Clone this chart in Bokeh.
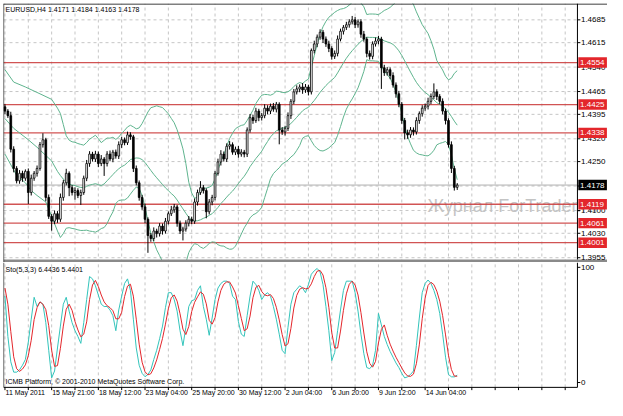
import numpy as np
from bokeh.plotting import figure
from bokeh.layouts import column
from bokeh.models import Range1d, Span, ColumnDataSource
from bokeh.core.properties import value
from bokeh.embed import file_html
from bokeh.resources import INLINE

# ---------------- data ----------------
chart_title = "EURUSD,H4  1.4171 1.4184 1.4163 1.4178"
sto_title = "Sto(5,3,3) 6.4436 5.4401"
copyright_text = "ICMB Platform, \u00a9 2001-2010 MetaQuotes Software Corp."
watermark = "Журнал ForTrader.ru"

first_open = 1.4418
closes = [
    1.4405, 1.4391, 1.4288, 1.4229, 1.4191, 1.4214, 1.4199, 1.4220, 1.4155, 1.4199,
    1.4214, 1.4229, 1.4302, 1.4317, 1.4140, 1.4082, 1.4067, 1.4090, 1.4073, 1.4140,
    1.4185, 1.4214, 1.4170, 1.4155, 1.4161, 1.4146, 1.4155, 1.4199, 1.4244, 1.4273,
    1.4258, 1.4273, 1.4244, 1.4258, 1.4244, 1.4273, 1.4258, 1.4279, 1.4267, 1.4302,
    1.4317, 1.4308, 1.4332, 1.4326, 1.4229, 1.4185, 1.4140, 1.4111, 1.4073, 1.4023,
    1.4014, 1.4037, 1.4029, 1.4052, 1.4037, 1.4067, 1.4090, 1.4102, 1.4111, 1.4061,
    1.4037, 1.4043, 1.4061, 1.4073, 1.4067, 1.4126, 1.4155, 1.4170, 1.4161, 1.4096,
    1.4126, 1.4140, 1.4214, 1.4249, 1.4273, 1.4258, 1.4297, 1.4302, 1.4279, 1.4288,
    1.4273, 1.4279, 1.4273, 1.4347, 1.4385, 1.4376, 1.4405, 1.4385, 1.4391, 1.4414,
    1.4405, 1.4420, 1.4411, 1.4426, 1.4347, 1.4341, 1.4352, 1.4391, 1.4435, 1.4464,
    1.4473, 1.4479, 1.4470, 1.4479, 1.4464, 1.4591, 1.4611, 1.4632, 1.4647, 1.4626,
    1.4611, 1.4597, 1.4573, 1.4582, 1.4626, 1.4650, 1.4662, 1.4670, 1.4679, 1.4685,
    1.4670, 1.4679, 1.4641, 1.4626, 1.4582, 1.4573, 1.4611, 1.4620, 1.4626, 1.4538,
    1.4523, 1.4532, 1.4514, 1.4485, 1.4458, 1.4426, 1.4376, 1.4338, 1.4332, 1.4347,
    1.4341, 1.4376, 1.4397, 1.4414, 1.4420, 1.4435, 1.4450, 1.4464, 1.4450, 1.4435,
    1.4405, 1.4376, 1.4302, 1.4229, 1.4171, 1.4178,
]
upper_wick_pips = [
    8, 6, 12, 9, 7, 10, 8, 6, 9, 11,
    7, 9, 8, 20, 6, 9, 7, 10, 8, 12,
    9, 14, 6, 8, 10, 7, 9, 8, 11, 9,
    7, 10, 8, 12, 6, 9, 11, 7, 8, 10,
    9, 7, 10, 8, 6, 9, 7, 8, 10, 6,
    8, 11, 7, 9, 8, 10, 7, 12, 9, 6,
    8, 7, 9, 10, 8, 11, 9, 20, 8, 7,
    9, 8, 7, 10, 12, 8, 9, 11, 7, 8,
    10, 9, 7, 8, 11, 9, 10, 7, 8, 12,
    9, 8, 10, 7, 6, 9, 8, 10, 7, 9,
    11, 8, 12, 9, 7, 6, 10, 8, 9, 7,
    8, 10, 7, 9, 11, 8, 7, 9, 8, 12,
    9, 7, 8, 10, 6, 9, 8, 11, 10, 7,
    9, 8, 7, 10, 8, 9, 7, 8, 10, 9,
    8, 10, 7, 9, 8, 11, 9, 26, 8, 7,
    9, 8, 7, 10, 8, 6,
]
lower_wick_pips = [
    9, 7, 10, 12, 8, 9, 11, 8, 35, 9,
    8, 10, 7, 9, 12, 8, 29, 9, 11, 8,
    10, 8, 26, 9, 22, 8, 29, 7, 9, 10,
    8, 9, 11, 8, 38, 9, 7, 10, 8, 9,
    10, 8, 7, 9, 11, 8, 10, 9, 12, 53,
    10, 8, 12, 9, 11, 8, 10, 7, 9, 11,
    9, 29, 8, 10, 9, 8, 11, 7, 9, 20,
    8, 10, 9, 7, 11, 8, 9, 10, 8, 9,
    11, 8, 10, 9, 8, 10, 7, 11, 9, 8,
    10, 9, 8, 10, 44, 9, 11, 8, 10, 9,
    8, 10, 12, 9, 11, 8, 9, 10, 8, 12,
    9, 11, 10, 8, 9, 7, 10, 8, 9, 8,
    10, 9, 11, 8, 12, 10, 9, 8, 10, 65,
    10, 9, 11, 8, 12, 9, 10, 20, 12, 9,
    11, 8, 10, 9, 8, 10, 9, 8, 11, 9,
    10, 12, 9, 14, 10, 8,
]

# Bollinger bands: visible start of the bands (before a full 20-bar window exists)
bb_upper_head_idx = [0, 3, 7, 12, 16, 18]
bb_upper_head = [1.4532, 1.4494, 1.4479, 1.4458, 1.4441, 1.4414]
bb_mid_head_idx = [0, 3, 8, 11, 16, 18]
bb_mid_head = [1.4382, 1.4352, 1.4317, 1.4294, 1.4252, 1.4220]
bb_lower_head_idx = [0, 4, 7, 9, 11, 14, 16, 18]
bb_lower_head = [1.4273, 1.4208, 1.4185, 1.4161, 1.4146, 1.4126, 1.4082, 1.4037]
bb_period = 20
bb_dev = 2.0

stoch_k = [
    75, 40, 18, 9, 9, 11, 15, 20, 35, 55,
    74, 66, 70, 68, 52, 28, 4, 10, 30, 49,
    68, 74, 62, 52, 45, 40, 34, 52, 72, 92,
    90, 84, 76, 68, 66, 66, 63, 58, 45, 63,
    75, 86, 90, 80, 55, 30, 15, 8, 5, 7,
    11, 20, 28, 38, 49, 65, 78, 78, 72, 62,
    45, 32, 48, 66, 71, 72, 80, 84, 66, 55,
    41, 56, 72, 82, 86, 88, 88, 86, 75, 72,
    53, 42, 40, 58, 75, 88, 85, 80, 72, 76,
    78, 75, 66, 55, 42, 28, 25, 48, 68, 78,
    81, 84, 82, 78, 85, 94, 97, 99, 96, 85,
    66, 45, 19, 26, 45, 63, 80, 88, 88, 88,
    78, 62, 42, 25, 13, 12, 15, 28, 60, 50,
    40, 33, 27, 22, 17, 13, 8, 4, 5, 7,
    10, 32, 56, 78, 86, 89, 86, 80, 72, 60,
    42, 22, 7, 4.98, 4.9, 6.44,
]
stoch_d_head = [82.0, 68.0]

level_prices = [1.4554, 1.4425, 1.4338, 1.4119, 1.4061, 1.4001]
level_labels = ["1.4554", "1.4425", "1.4338", "1.4119", "1.4061", "1.4001"]
bid_price = 1.4178
bid_label = "1.4178"
price_ticks = [1.3955, 1.4030, 1.4100, 1.4175, 1.4250, 1.4320,
               1.4395, 1.4465, 1.4540, 1.4615, 1.4685]
sto_ticks = [0, 100]
sto_tick_labels = ["0", "100"]
date_idx = [0, 16, 32, 48, 64, 80, 96, 112, 128, 144]
date_labels = ["11 May 2011", "15 May 21:00", "18 May 12:00", "23 May 04:00",
               "25 May 20:00", "30 May 12:00", "2 Jun 04:00", "6 Jun 20:00",
               "9 Jun 12:00", "14 Jun 04:00"]
grid_idx = [0, 8, 16, 24, 32, 40, 48, 56, 64, 72, 80, 88, 96, 104, 112, 120,
            128, 136, 144, 152, 160, 168, 176, 184, 192]

# ---------------- derived ----------------
n = len(closes)
idx = np.arange(n)
c = np.array(closes)
o = np.array([first_open] + closes[:-1])
body_top = np.maximum(o, c)
body_bot = np.minimum(o, c)
highs = body_top + np.array(upper_wick_pips) * 1e-4
lows = body_bot - np.array(lower_wick_pips) * 1e-4
bull = c >= o

bb_x = list(range(bb_period - 1, n))
mids, ups, lws = [], [], []
for i in bb_x:
    w = c[i - bb_period + 1:i + 1]
    m, s_ = w.mean(), w.std()
    mids.append(m); ups.append(m + bb_dev * s_); lws.append(m - bb_dev * s_)

k = list(stoch_k)
d = list(stoch_d_head) + [sum(k[i - 2:i + 1]) / 3.0 for i in range(2, n)]

# ---------------- geometry / styling ----------------
FONT = value("Liberation Sans")
GRID_C = "#c6c6c6"
BAND_C = "#5fb48e"
LEVEL_C = "#cc4040"
BOX_C = "#e3262b"
SEP_C = "#8a8a8a"
W = 607
X0, PLOT_END, X_END = -0.5, 196.2, 206.5
xr = Range1d(X0, X_END)
P_LO, P_HI = 1.39403, 1.47352
main_frame_h = 259
px_p = (P_HI - P_LO) / main_frame_h          # price per screen pixel
box_half = 5.2 * px_p

# ---------------- main price panel ----------------
p = figure(width=W, height=3 + main_frame_h, x_range=xr, y_range=Range1d(P_LO, P_HI),
           output_backend="svg", toolbar_location=None, x_axis_location=None,
           y_axis_location=None, min_border_left=3, min_border_right=0,
           min_border_top=3, min_border_bottom=0, background_fill_color="white",
           border_fill_color="white", outline_line_color=None)
p.xgrid.visible = False
p.ygrid.visible = False

# grid
p.segment(x0=grid_idx, y0=[P_LO] * len(grid_idx), x1=grid_idx, y1=[P_HI] * len(grid_idx),
          line_color=GRID_C, line_dash="3 3", line_width=1)
p.segment(x0=[X0] * len(price_ticks), y0=price_ticks, x1=[PLOT_END] * len(price_ticks),
          y1=price_ticks, line_color=GRID_C, line_dash="3 3", line_width=1)

# watermark
p.text(x=[144.8], y=[1.4114], text=[watermark], text_font=FONT,
       text_font_size=value("18px"), text_color="#c4c4c4",
       text_baseline="middle", text_align="left")

# bid line and horizontal levels
p.segment(x0=[X0], y0=[bid_price], x1=[PLOT_END], y1=[bid_price],
          line_color="#b0b0b0", line_width=1)
p.segment(x0=[X0] * len(level_prices), y0=level_prices,
          x1=[PLOT_END] * len(level_prices), y1=level_prices,
          line_color=LEVEL_C, line_width=1.3, line_alpha=0.9)

# Bollinger bands
p.line(bb_upper_head_idx + bb_x, bb_upper_head + ups, line_color=BAND_C, line_width=1)
p.line(bb_mid_head_idx + bb_x, bb_mid_head + mids, line_color=BAND_C, line_width=1)
p.line(bb_lower_head_idx + bb_x, bb_lower_head + lws, line_color=BAND_C, line_width=1)

# candles
src = ColumnDataSource(dict(x=idx, top=body_top, bot=body_bot, hi=highs, lo=lows,
                            fill=np.where(bull, "white", "black")))
p.segment(x0="x", y0="hi", x1="x", y1="lo", source=src, line_color="black", line_width=1)
p.vbar(x="x", width=0.6, top="top", bottom="bot", source=src, fill_color="fill",
       line_color="black", line_width=0.8)

# separator bar between the panels (bottom of this panel)
p.segment(x0=[X0], y0=[P_LO + 1.5 * px_p], x1=[X_END], y1=[P_LO + 1.5 * px_p],
          line_color=SEP_C, line_width=3)

# frame edges and right price scale
p.add_layout(Span(location=X0 + 0.05, dimension="height", line_color="black", line_width=1))
p.add_layout(Span(location=P_HI - 0.5 * px_p, dimension="width", line_color="black",
                  line_width=1))
p.segment(x0=[PLOT_END], y0=[P_LO + 3 * px_p], x1=[PLOT_END], y1=[P_HI],
          line_color="black", line_width=1)
p.segment(x0=[PLOT_END] * len(price_ticks), y0=price_ticks,
          x1=[PLOT_END + 1.0] * len(price_ticks), y1=price_ticks,
          line_color="black", line_width=1)
p.text(x=[PLOT_END + 1.2] * len(price_ticks), y=price_ticks,
       text=[f"{v:.4f}" for v in price_ticks], text_font=FONT,
       text_font_size=value("8px"), text_color="black", text_align="left",
       text_baseline="middle")

# level boxes
p.quad(left=[PLOT_END + 0.3] * len(level_prices), right=[X_END - 0.2] * len(level_prices),
       bottom=[v - box_half for v in level_prices], top=[v + box_half for v in level_prices],
       fill_color=BOX_C, line_color=None)
p.text(x=[PLOT_END + 0.9] * len(level_prices), y=level_prices, text=level_labels,
       text_font=FONT, text_font_size=value("8px"), text_color="white",
       text_align="left", text_baseline="middle")
p.quad(left=[PLOT_END + 0.3], right=[X_END - 0.2], bottom=[bid_price - box_half],
       top=[bid_price + box_half], fill_color="black", line_color=None)
p.text(x=[PLOT_END + 0.9], y=[bid_price], text=[bid_label], text_font=FONT,
       text_font_size=value("8px"), text_color="white", text_align="left",
       text_baseline="middle")

# title
p.text(x=[X0 + 0.7], y=[P_HI - 2 * px_p], text=[chart_title], text_font=FONT,
       text_font_size=value("7px"), text_color="black", text_align="left",
       text_baseline="top")

# ---------------- stochastic panel ----------------
S_LO, S_HI = -15.6, 104.2
S_AX = -4.2
s = figure(width=W, height=138, x_range=xr, y_range=Range1d(S_LO, S_HI),
           output_backend="svg", toolbar_location=None, x_axis_location=None,
           y_axis_location=None, min_border_left=3, min_border_right=0,
           min_border_top=0, min_border_bottom=0, background_fill_color="white",
           border_fill_color="white", outline_line_color=None)
s.xgrid.visible = False
s.ygrid.visible = False

s.segment(x0=grid_idx, y0=[S_AX] * len(grid_idx), x1=grid_idx, y1=[S_HI] * len(grid_idx),
          line_color=GRID_C, line_dash="3 3", line_width=1)

s.line(idx, k, line_color="#33c4bb", line_width=1)
s.line(idx, d, line_color="#e3262b", line_width=1)

# frame edges, axes
s.segment(x0=[X0 + 0.05], y0=[S_AX], x1=[X0 + 0.05], y1=[S_HI], line_color="black",
          line_width=1)
s.segment(x0=[PLOT_END], y0=[S_AX], x1=[PLOT_END], y1=[S_HI], line_color="black",
          line_width=1)
s.segment(x0=[X0], y0=[S_AX], x1=[PLOT_END], y1=[S_AX], line_color="black", line_width=1)
s.segment(x0=grid_idx, y0=[S_AX] * len(grid_idx), x1=grid_idx,
          y1=[S_AX - 2.4] * len(grid_idx), line_color="black", line_width=1)
s.segment(x0=[PLOT_END] * 2, y0=sto_ticks, x1=[PLOT_END + 1.0] * 2, y1=sto_ticks,
          line_color="black", line_width=1)
s.text(x=[PLOT_END + 1.2] * 2, y=sto_ticks, text=sto_tick_labels, text_font=FONT,
       text_font_size=value("8px"), text_color="black", text_align="left",
       text_baseline="middle")

s.text(x=[X0 + 0.7], y=[100.8], text=[sto_title], text_font=FONT,
       text_font_size=value("7px"), text_color="black", text_align="left",
       text_baseline="top")
s.text(x=[X0 + 0.7], y=[-2.4], text=[copyright_text], text_font=FONT,
       text_font_size=value("7px"), text_color="black", text_align="left",
       text_baseline="bottom")
s.text(x=[i + 0.2 for i in date_idx], y=[-5.8] * len(date_idx), text=date_labels,
       text_font=FONT, text_font_size=value("7px"), text_color="black",
       text_align="left", text_baseline="top")

layout = column(p, s, spacing=0)
open("out.html", "w").write(file_html(layout, INLINE))
